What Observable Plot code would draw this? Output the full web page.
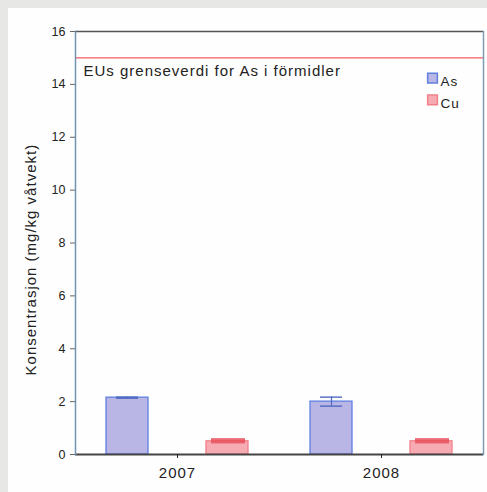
<!DOCTYPE html>
<html>
<head>
<meta charset="utf-8">
<script src="https://cdn.jsdelivr.net/npm/d3@7"></script>
<script src="https://cdn.jsdelivr.net/npm/@observablehq/plot@0.6"></script>
<style>
  html, body { margin: 0; padding: 0; background: #e7e7e5; }
  #wrap { position: relative; width: 487px; height: 492px; overflow: hidden; }
  #paper { position: absolute; left: 8px; top: 8px; right: 0; bottom: 0; background: #fefefe; }
  #chart { position: absolute; left: 0; top: 0; }
  #chart svg { background: transparent; }
  #chart svg text { letter-spacing: 1px; }
  #chart svg g[aria-label="y-axis tick label"] text { letter-spacing: 0; }
</style>
</head>
<body>
<div id="wrap"><div id="paper"></div><div id="chart"></div></div>
<script>
const years = [2007, 2008];
const elements = ["As", "Cu"];
const asMeans = [2.15, 2.0];
const asErr = [0.02, 0.17];
const cuMeans = [0.5, 0.5];
const cuErr = [0.1, 0.1];
const limitValue = 15;
const limitLabel = "EUs grenseverdi for As i förmidler";
const yLabel = "Konsentrasjon (mg/kg våtvekt)";
const yTicks = [0, 2, 4, 6, 8, 10, 12, 14, 16];

const fills = {As: "#b9b5e4", Cu: "#f6abb2"};
const strokes = {As: "#5f7fe0", Cu: "#f08089"};

const rows = [];
years.forEach((yr, i) => {
  rows.push({year: yr, el: "As", v: asMeans[i], e: asErr[i]});
  rows.push({year: yr, el: "Cu", v: cuMeans[i], e: cuErr[i]});
});
const asRows = rows.filter(d => d.el === "As");
const cuRows = rows.filter(d => d.el === "Cu");
const legend = elements.map((el, i) => ({year: years[years.length - 1], el, i}));
const note = [{year: years[0], text: limitLabel}];
const ylab = [{year: years[0], text: yLabel}];

const font = "Liberation Sans, Arial, sans-serif";

const chart = Plot.plot({
  width: 487,
  height: 492,
  marginLeft: 74,
  marginRight: 4,
  marginTop: 31,
  marginBottom: 38,
  style: {fontFamily: font, fontSize: "12.5px", color: "#222", background: "transparent"},
  fx: {domain: years, padding: 0},
  x: {domain: elements, paddingInner: 0.58, paddingOuter: 0.31, axis: null},
  y: {domain: [0, 16]},
  marks: [
    Plot.ruleY([limitValue], {stroke: "#ef5a5f", strokeWidth: 1.2}),
    Plot.barY(rows, {fx: "year", x: "el", y: "v",
      fill: d => fills[d.el], stroke: d => strokes[d.el], strokeWidth: 1.3}),
    // As error bars
    Plot.ruleX(asRows, {fx: "year", x: "el", y1: d => d.v - d.e, y2: d => d.v + d.e,
      stroke: "#5068c0", strokeWidth: 1.2}),
    Plot.tickY(asRows, {fx: "year", x: "el", y: d => d.v + d.e, stroke: "#5068c0",
      strokeWidth: 1.4, insetLeft: 10, insetRight: 10}),
    Plot.tickY(asRows, {fx: "year", x: "el", y: d => d.v - d.e, stroke: "#5068c0",
      strokeWidth: 1.4, insetLeft: 10, insetRight: 10}),
    // Cu error band
    Plot.rectY(cuRows, {fx: "year", x: "el", y1: d => d.v - d.e, y2: d => d.v + d.e,
      fill: "#e8505c", fillOpacity: 0.85, insetLeft: 5, insetRight: 3}),
    Plot.ruleY([0], {stroke: "#444", strokeWidth: 2}),
    Plot.ruleY([16], {stroke: "#555", strokeWidth: 1.5}),
    Plot.frame({anchor: "left", facet: "super", stroke: "#6f95b3", strokeWidth: 1.5}),
    Plot.frame({anchor: "right", facet: "super", stroke: "#7f9cb5", strokeWidth: 1.5}),
    Plot.text(note, {fx: "year", y: 14.49, text: "text", frameAnchor: "left",
      textAnchor: "start", dx: 8, fontSize: 15, fill: "#222"}),
    Plot.dot(legend, {fx: "year", y: d => 14.24 - d.i * 0.83, frameAnchor: "right", dx: -51,
      symbol: "square", r: 5.5, fill: d => fills[d.el], stroke: d => strokes[d.el]}),
    Plot.text(legend, {fx: "year", y: d => 14.24 - d.i * 0.83, text: "el", frameAnchor: "right",
      dx: -43, dy: 4, textAnchor: "start", fontSize: 13.5, fill: "#222"}),
    Plot.text(ylab, {fx: "year", y: 7.37, text: "text", frameAnchor: "left", rotate: -90,
      textAnchor: "middle", dx: -44, fontSize: 15, fill: "#222"}),
    Plot.axisY({ticks: yTicks, tickSize: 5, tickPadding: 5, stroke: "#666", fill: "#222",
      label: null, fontSize: 12.5}),
    Plot.axisFx({anchor: "bottom", tickSize: 4, tickPadding: 9, label: null,
      tickFormat: d => String(d), fill: "#222", fontSize: 15})
  ]
});
document.getElementById("chart").appendChild(chart);
</script>
</body>
</html>
